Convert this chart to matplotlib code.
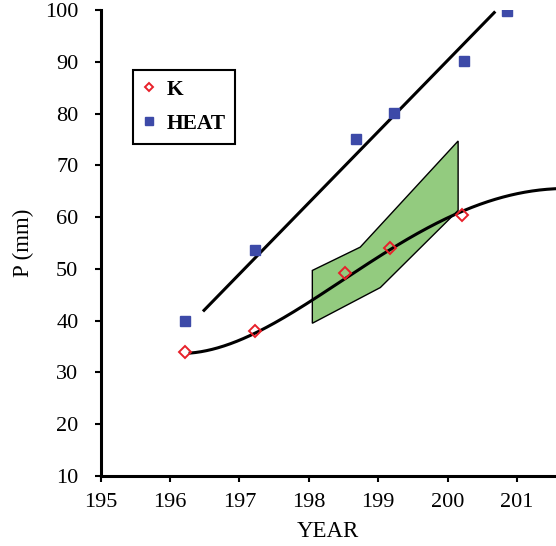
import numpy as np
import matplotlib
matplotlib.use("Agg")
import matplotlib.pyplot as plt
from matplotlib.patches import Polygon

# ---- data ----
k_x = [196.22, 197.22, 198.52, 199.17, 200.21]
k_y = [33.9, 38.0, 49.2, 54.0, 60.4]

heat_x = [196.22, 197.22, 198.68, 199.23, 200.23, 200.85]
heat_y = [39.9, 53.7, 75.1, 80.1, 90.2, 99.9]

# straight trend line through HEAT
heat_fit_x = [196.49, 200.67]
heat_fit_y = [42.0, 99.5]

# smooth trend curve through K
k_curve_x = [196.29, 196.72, 197.25, 197.68, 198.07, 198.55, 199.17, 199.60, 199.99, 200.28, 200.71, 201.09, 201.56]
k_curve_y = [33.7, 34.95, 37.85, 40.75, 43.98, 48.49, 53.98, 57.19, 59.46, 61.39, 63.66, 64.93, 65.40]

# green band
band_upper_x = [198.05, 198.74, 200.15]
band_upper_y = [49.7, 54.2, 74.7]
band_lower_x = [200.15, 199.03, 198.05]
band_lower_y = [61.3, 46.4, 39.5]

x_ticks = [195, 196, 197, 198, 199, 200, 201]
y_ticks = [10, 20, 30, 40, 50, 60, 70, 80, 90, 100]

plt.rcParams['font.family'] = ['Liberation Serif', 'DejaVu Serif']

fig = plt.figure(figsize=(5.56, 5.46), dpi=100)
ax = fig.add_axes([100.6 / 556, 70 / 546, (556 - 100.6) / 556, 466 / 546])

# band
poly_pts = list(zip(band_upper_x + band_lower_x, band_upper_y + band_lower_y))
ax.add_patch(Polygon(poly_pts, closed=True, facecolor='#93cb7f', edgecolor='black',
                     linewidth=1.0, zorder=1))

# K curve (least-squares smooth polynomial through the sampled trend)
xc = np.asarray(k_curve_x) - 199.0
coef = np.polyfit(xc, k_curve_y, 4)
xs = np.linspace(xc[0], xc[-1], 400)
ax.plot(xs + 199.0, np.polyval(coef, xs), color='black', linewidth=2.2, zorder=2)

# HEAT line
ax.plot(heat_fit_x, heat_fit_y, color='black', linewidth=2.2, zorder=2)

ax.plot(k_x, k_y, linestyle='none', marker='D', markersize=6, markerfacecolor='none',
        markeredgecolor='#e8202a', markeredgewidth=1.4, label='K', zorder=3)
ax.plot(heat_x, heat_y, linestyle='none', marker='s', markersize=7, color='#3d4aa8',
        label='HEAT', zorder=3)

ax.set_xlim(195, 201.56)
ax.set_ylim(10, 100)
ax.set_xticks(x_ticks)
ax.set_yticks(y_ticks)
ax.set_xticklabels([str(t) for t in x_ticks])
ax.set_yticklabels([str(t) for t in y_ticks])
ax.tick_params(labelsize=16, width=1.5, length=4, direction='out')
ax.tick_params(axis='y', pad=12)
ax.tick_params(axis='x', pad=8)

for s in ['top', 'right']:
    ax.spines[s].set_visible(False)
for s in ['left', 'bottom']:
    ax.spines[s].set_linewidth(2.2)

ax.set_xlabel('YEAR', fontsize=16.5, labelpad=7)
ax.set_ylabel('P (mm)', fontsize=16.5, labelpad=8)

leg = ax.legend(loc='upper left', bbox_to_anchor=(0.071, 0.871), borderaxespad=0,
                fancybox=False, edgecolor='black', framealpha=1,
                prop={'family': 'Liberation Serif', 'weight': 'bold', 'size': 15.5},
                handlelength=0.6, handletextpad=0.5, labelspacing=0.65,
                borderpad=0.45, markerscale=0.75)
leg.get_frame().set_linewidth(1.5)

fig.savefig('out.png', dpi=100)
